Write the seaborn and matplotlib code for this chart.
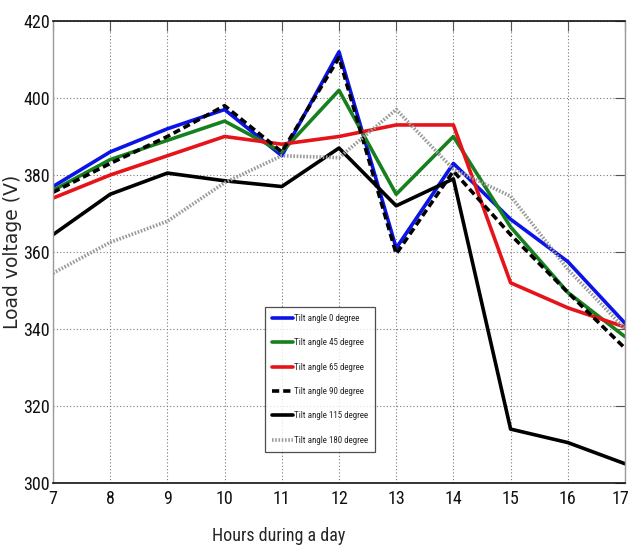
import matplotlib
matplotlib.use("Agg")
import matplotlib.pyplot as plt
from matplotlib import font_manager
import seaborn as sns
import pandas as pd

# Hours of the day and measured load voltage for each panel tilt angle
hours = [7, 8, 9, 10, 11, 12, 13, 14, 15, 16, 17]
tilt_0 = [377, 386, 392, 397, 385, 412, 361, 383, 368.5, 357.5, 341.5]
tilt_45 = [376, 384, 389, 394, 386, 402, 375, 390, 366.5, 349.5, 338]
tilt_65 = [374, 380, 385, 390, 388, 390, 393, 393, 352, 345.5, 340.5]
tilt_90 = [375.5, 383, 390, 398, 386, 410.5, 359.5, 381, 364.5, 349.5, 335]
tilt_115 = [364.5, 375, 380.5, 378.5, 377, 387, 372, 379, 314, 310.5, 305]
tilt_180 = [354.5, 362.5, 368, 378, 385, 384.5, 397, 381.5, 374.5, 355.5, 340]

labels = ["Tilt angle 0 degree", "Tilt angle 45 degree", "Tilt angle 65 degree",
          "Tilt angle 90 degree", "Tilt angle 115 degree", "Tilt angle 180 degree"]
series = [tilt_0, tilt_45, tilt_65, tilt_90, tilt_115, tilt_180]
x_ticks = [7, 8, 9, 10, 11, 12, 13, 14, 15, 16, 17]
y_ticks = [300, 320, 340, 360, 380, 400, 420]

styles = [
    dict(color="#0a14e6", linestyle="-"),
    dict(color="#17801e", linestyle="-"),
    dict(color="#e6141a", linestyle="-"),
    dict(color="#000000", linestyle=(0, (2.0, 1.1))),
    dict(color="#000000", linestyle="-"),
    dict(color="#9a9a9a", linestyle=(0, (0.45, 0.45))),
]

sns.set_style("white")

# prefer a condensed face for the horizontal texts when one is installed
installed = {f.name for f in font_manager.fontManager.ttflist}
narrow_choices = ["Roboto Condensed", "Liberation Sans Narrow", "Open Sans Condensed",
                  "DejaVu Sans Condensed"]
narrow = [n for n in narrow_choices if n in installed]
has_narrow = bool(narrow)
narrow = narrow + ["Liberation Sans", "DejaVu Sans"]

tick_size = 13 if has_narrow else 11.5
leg_size = 6.5 if has_narrow else 5.8
xlab_size = 13 if has_narrow else 12

fig = plt.figure(figsize=(6.32, 5.52), dpi=100)
ax = fig.add_axes([53 / 632, 1 - 483 / 552, 572 / 632, 462 / 552])

for lab, vals, st in zip(labels, series, styles):
    df = pd.DataFrame({"hour": hours, "voltage": vals})
    sns.lineplot(data=df, x="hour", y="voltage", ax=ax, label=lab,
                 linewidth=2.6, color=st["color"], linestyle=st["linestyle"])

for line, st in zip(ax.get_lines(), styles):
    line.set_linestyle(st["linestyle"])

ax.set_xlim(7, 17)
ax.set_ylim(300, 420)
ax.set_xticks(x_ticks)
ax.set_yticks(y_ticks)
# the final hour label sits at the canvas edge, so it is drawn nudged inward below
ax.set_xticklabels([str(t) for t in x_ticks[:-1]] + [""], family=narrow, fontsize=tick_size)
ax.set_yticklabels([str(t) for t in y_ticks], family=narrow, fontsize=tick_size)
ax.annotate(str(x_ticks[-1]), xy=(x_ticks[-1], 0), xycoords=("data", "axes fraction"),
            xytext=(-3, -5), textcoords="offset points", ha="center", va="top",
            family=narrow, fontsize=tick_size, color="#111111", annotation_clip=False)

ax.grid(True, linestyle=(0, (1, 2)), color="#7a7a7a", linewidth=0.8)
ax.tick_params(direction="in", length=7, width=0.8, top=True, right=True,
               colors="#555555", labelcolor="#111111")
ax.tick_params(axis="x", pad=5)
ax.tick_params(axis="y", pad=2)

for side in ["top", "bottom"]:
    ax.spines[side].set_color("#111111")
    ax.spines[side].set_linewidth(1.2)
for side in ["left", "right"]:
    ax.spines[side].set_color("#9a9a9a")
    ax.spines[side].set_linewidth(1.0)

ax.set_xlabel("Hours during a day", family=narrow, fontsize=xlab_size)
ax.xaxis.set_label_coords(0.395, -0.095)
ax.set_ylabel("Load voltage (V)", family=["DejaVu Sans"], fontsize=13.5)
ax.yaxis.set_label_coords(-0.055, 0.5)

leg = ax.legend(loc="lower left", bbox_to_anchor=(0.371, 0.067), borderaxespad=0,
                prop=dict(family=narrow, size=leg_size),
                handlelength=2.3, handletextpad=0.1, labelspacing=1.7,
                borderpad=0.8, frameon=True, fancybox=False)
leg.get_frame().set_edgecolor("#222222")
leg.get_frame().set_linewidth(0.9)

fig.savefig("out.png", dpi=100)
